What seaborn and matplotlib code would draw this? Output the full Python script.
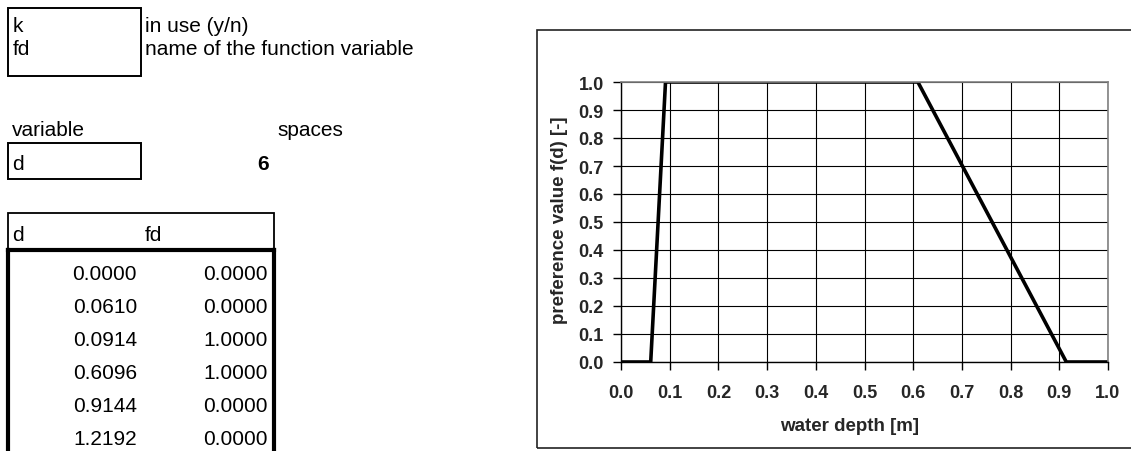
import numpy as np
import pandas as pd
import matplotlib
matplotlib.use("Agg")
import matplotlib.pyplot as plt
from matplotlib.patches import Rectangle
from matplotlib.lines import Line2D
import seaborn as sns

# ---- data ----
depth = [0.0000, 0.0610, 0.0914, 0.6096, 0.9144, 1.2192]
pref = [0.0000, 0.0000, 1.0000, 1.0000, 0.0000, 0.0000]
x_ticks = [0.0, 0.1, 0.2, 0.3, 0.4, 0.5, 0.6, 0.7, 0.8, 0.9, 1.0]
y_ticks = [0.0, 0.1, 0.2, 0.3, 0.4, 0.5, 0.6, 0.7, 0.8, 0.9, 1.0]
x_label = "water depth [m]"
y_label = "preference value f(d) [-]"
in_use = "k"
func_var = "fd"
variable = "d"
spaces = "6"

sns.set_theme(style="white")
plt.rcParams["font.family"] = ["Liberation Sans", "DejaVu Sans"]

W, H = 1131, 452
fig = plt.figure(figsize=(W / 100, H / 100), dpi=100)


def P(x, y):
    return x / W, 1 - y / H


def txt(x, y, s, ha="left", size=15, weight="normal"):
    fig.text(*P(x, y), s, ha=ha, va="baseline", fontsize=size,
             fontweight=weight, color="black")


def rect(x0, y0, x1, y1, lw=1.4, color="black"):
    fig.add_artist(Rectangle(P(x0, y1), (x1 - x0) / W, (y1 - y0) / H,
                             transform=fig.transFigure, fill=False,
                             lw=lw, edgecolor=color))


def line(xs, ys, lw=1.0, color="black"):
    fig.add_artist(Line2D([x / W for x in xs], [1 - y / H for y in ys],
                          transform=fig.transFigure, lw=lw, color=color,
                          solid_capstyle="projecting"))


# ---- left spreadsheet part ----
rect(8, 9, 141, 77)
txt(13, 32, in_use)
txt(13, 55, func_var)
txt(145, 32, "in use (y/n)")
txt(145, 55, "name of the function variable")

txt(12, 136, "variable")
txt(277, 136, "spaces")
rect(8, 144, 141, 180)
txt(12, 170, variable)
txt(263, 170, spaces, ha="center", weight="bold")

rect(8, 214, 274, 250, lw=1.3)
txt(12, 241, variable)
txt(145, 241, func_var)
line([8, 274], [251, 251], lw=3)
line([8, 8], [251, 460], lw=3)
line([274, 274], [251, 460], lw=3)
for i, (dv, fv) in enumerate(zip(depth, pref)):
    yb = 280 + 33 * i
    txt(137, yb, f"{dv:.4f}", ha="right")
    txt(268, yb, f"{fv:.4f}", ha="right")

# ---- chart box ----
rect(537, 31, 1160, 449, lw=1.2, color="#222222")

# ---- chart ----
ax = fig.add_axes([621 / W, 1 - 363 / H, 487 / W, 280 / H])
df = pd.DataFrame({"depth": depth, "pref": pref})
sns.lineplot(data=df, x="depth", y="pref", ax=ax, color="black",
             lw=2.6, sort=False, estimator=None)
ax.set_xlim(0, 1.0)
ax.set_ylim(0, 1.0)
ax.set_xticks(x_ticks)
ax.set_yticks(y_ticks)
ax.set_xticklabels([f"{v:.1f}" for v in x_ticks])
ax.set_yticklabels([f"{v:.1f}" for v in y_ticks])
ax.grid(True, color="black", lw=0.8)
ax.set_axisbelow(True)
for s in ["left", "bottom"]:
    ax.spines[s].set_color("black")
    ax.spines[s].set_linewidth(1.0)
for s in ["top", "right"]:
    ax.spines[s].set_color("#808080")
    ax.spines[s].set_linewidth(1.2)
ax.tick_params(axis="both", which="major", direction="out", length=6,
               width=1.0, color="black", labelsize=13,
               left=True, bottom=True)
ax.tick_params(axis="x", pad=10)
ax.tick_params(axis="y", pad=6.5)
for lab in ax.get_xticklabels() + ax.get_yticklabels():
    lab.set_fontweight("bold")
ax.set_xlabel("")
ax.set_ylabel("")
fig.text(*P(850, 427), x_label, ha="center", va="center", fontsize=13.5,
         fontweight="bold")
fig.text(*P(559, 220), y_label, ha="center", va="center", fontsize=13.5,
         fontweight="bold", rotation=90)

fig.savefig("out.png", dpi=100)
